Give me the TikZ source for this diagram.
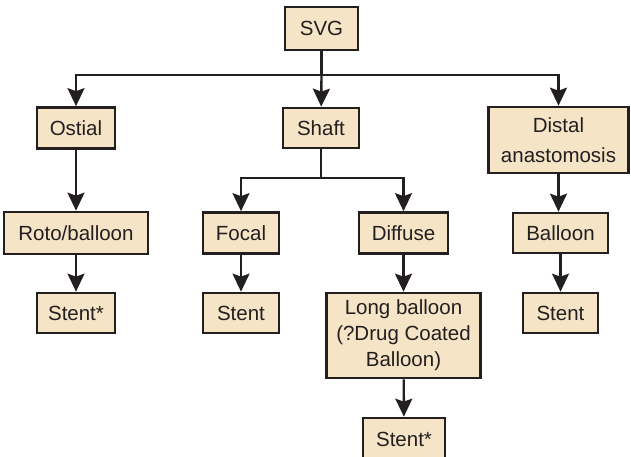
\documentclass[tikz,border=0pt]{standalone}
\usepackage{fontspec}
\setmainfont{Liberation Sans}
\usetikzlibrary{arrows.meta}
\definecolor{boxfill}{RGB}{246,228,198}
\definecolor{ink}{RGB}{35,31,32}
\begin{document}
\begin{tikzpicture}[x=1pt,y=-1pt,
  box/.style={draw=ink, fill=boxfill, line width=2.7pt, inner sep=0pt,
    align=center, text=ink, font=\fontsize{20.5}{26}\selectfont},
  link/.style={draw=ink, line width=2.4pt},
  arr/.style={link, -{Stealth[length=18pt, width=17pt, inset=3pt]}}]
\useasboundingbox (0,0) rectangle (631,456);

% first level
\node[box, minimum width=73pt, minimum height=43pt] (svg) at (321.5,28.5) {SVG};
\node[box, minimum width=78pt, minimum height=41pt] (ostial) at (76,128) {Ostial};
\node[box, minimum width=76pt, minimum height=40pt] (shaft) at (321,128) {Shaft};
\node[box, minimum width=140pt, minimum height=66pt,
      font=\fontsize{20.5}{30}\selectfont] (distal) at (558.5,140) {Distal\\anastomosis};

% second level
\node[box, minimum width=144pt, minimum height=42pt] (roto) at (76,233) {Roto/balloon};
\node[box, minimum width=76pt, minimum height=41pt] (focal) at (241,233) {Focal};
\node[box, minimum width=89pt, minimum height=41pt] (diffuse) at (403.5,233) {Diffuse};
\node[box, minimum width=95pt, minimum height=40pt] (balloon) at (560.5,233) {Balloon};

% third level
\node[box, minimum width=78pt, minimum height=40pt] (stentA) at (76,313) {Stent*};
\node[box, minimum width=76pt, minimum height=40pt] (stentB) at (241,313) {Stent};
\node[box, minimum width=154pt, minimum height=85pt] (long) at (403.5,335.5)
      {Long balloon\\(?Drug Coated\\Balloon)};
\node[box, minimum width=75pt, minimum height=40pt] (stentC) at (560.5,313) {Stent};
\node[box, minimum width=82pt, minimum height=42pt] (stentD) at (404,439) {Stent*};

% branch points
\coordinate (top) at (321.5,75);
\coordinate (mid) at (321,178);

% connectors
\draw[link] (svg) -- (top);
\draw[arr] (top) -| (ostial);
\draw[arr] (top) -| (distal);
\draw[arr] (top) -- (shaft);
\draw[link] (shaft) -- (mid);
\draw[arr] (mid) -| (focal);
\draw[arr] (mid) -| (diffuse);
\draw[arr] (ostial) -- (roto);
\draw[arr] (roto) -- (stentA);
\draw[arr] (focal) -- (stentB);
\draw[arr] (diffuse) -- (long);
\draw[arr] (long) -- (stentD);
\draw[arr] (distal) -- (distal |- balloon.north);
\draw[arr] (balloon) -- (balloon |- stentC.north);
\end{tikzpicture}
\end{document}
